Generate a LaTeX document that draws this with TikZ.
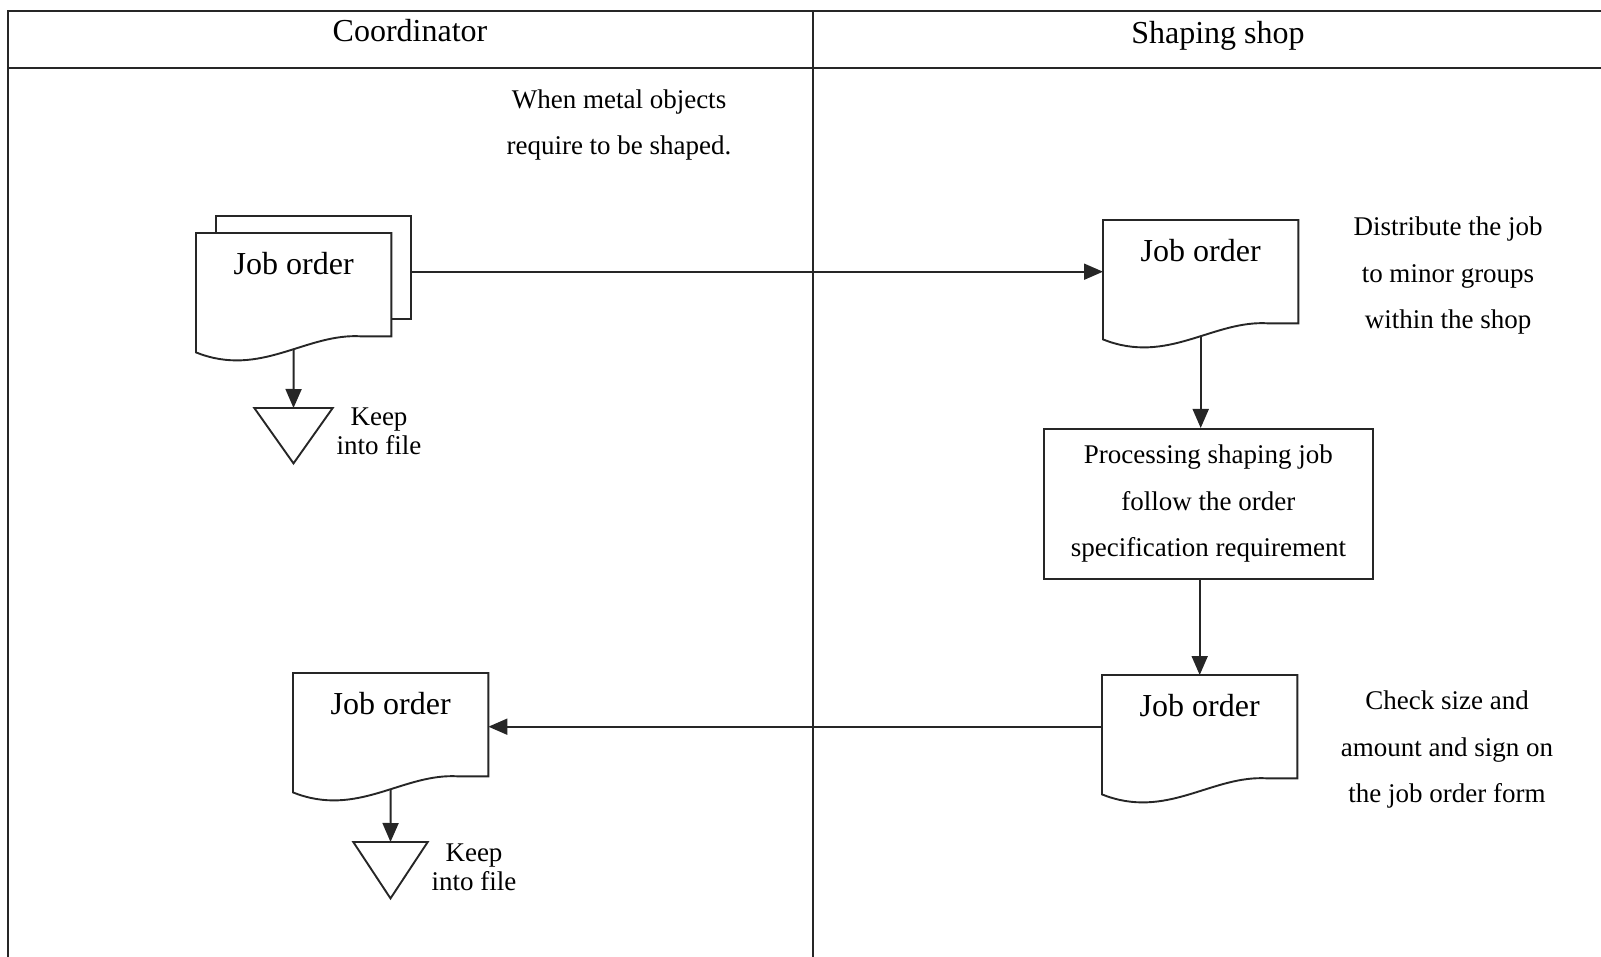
\documentclass[tikz,border=0pt]{standalone}
\usepackage{fontspec}
\setmainfont{Liberation Serif}
\usetikzlibrary{arrows.meta}

% Outline of a document symbol: straight top and sides, wavy bottom edge
\newcommand\docoutline[1]{%
  \draw[docline] (#1.south east) -- (#1.north east) -- (#1.north west)
    -- ([yshift=-16pt]#1.south west)
    .. controls ([shift={(65pt,-42pt)}]#1.south west) and ([shift={(110pt,4pt)}]#1.south west)
    .. ([xshift=166pt]#1.south west) -- cycle;}

\begin{document}
\begin{tikzpicture}[x=1pt,y=-1pt,
  frame/.style={line width=1.6pt, draw=black!85},
  docline/.style={line width=1.9pt, draw=black!85},
  doc/.style={minimum width=195pt, inner sep=0pt, text height=41pt, text depth=62pt,
    fill=white, font=\fontsize{32}{36}\selectfont, anchor=north west},
  backsheet/.style={draw=black!85, line width=1.9pt, fill=white, minimum width=195pt,
    minimum height=103pt, inner sep=0pt, anchor=north west},
  flow/.style={line width=1.9pt, draw=black!85, -{Triangle[length=19pt,width=16pt]}},
  note/.style={align=center, font=\fontsize{27}{46.5}\selectfont},
  keepnote/.style={align=center, font=\fontsize{27}{29}\selectfont},
  lane/.style={font=\fontsize{32}{36}\selectfont},
  filebox/.style={minimum width=78pt, minimum height=55pt, inner sep=0pt, anchor=north},
  procbox/.style={draw=black!85, line width=1.9pt, minimum width=329pt, minimum height=150pt,
    inner sep=0pt, align=center, font=\fontsize{27}{46.5}\selectfont, anchor=north west}
]
\useasboundingbox (0,0) rectangle (1601,957);

% swimlane frame
\draw[frame] (8,957) -- (8,11) -- (1601,11);
\draw[frame] (8,68) -- (1601,68);
\draw[frame] (813,11) -- (813,957);
\node[lane] (h1) at (410,31) {Coordinator};
\node[lane] (h2) at (1218,36) {Shaping shop};

% coordinator: multiple job order copies
\node[backsheet] (jo0b) at (215,215) {};
\node[doc] (jo0) at (196,233) {Job order};
\docoutline{jo0}
\node[note] (n0) at (619,125) {When metal objects\\require to be shaped.};

% shaping shop
\node[doc] (jo1) at (1103,220) {Job order};
\docoutline{jo1}
\node[note] (n1) at (1448,276) {Distribute the job\\to minor groups\\within the shop};

\node[procbox] (proc) at (1043,428) {Processing shaping job\\follow the order\\specification requirement};

\node[doc] (jo3) at (1102,675) {Job order};
\docoutline{jo3}
\node[note] (n3) at (1447,750) {Check size and\\amount and sign on\\the job order form};

% returned job order
\node[doc] (jo2) at (293,673) {Job order};
\docoutline{jo2}

% file symbols
\node[filebox] (f0) at (293.5,408) {};
\draw[docline] (f0.north west) -- (f0.north east) -- (f0.south) -- cycle;
\node[keepnote] (k0) at (379,431) {Keep\\into file};

\node[filebox, minimum width=74pt, minimum height=56pt] (f2) at (390.5,842) {};
\draw[docline] (f2.north west) -- (f2.north east) -- (f2.south) -- cycle;
\node[keepnote] (k2) at (474,867) {Keep\\into file};

% flows
\draw[flow] (jo0b.east |- jo1.west) -- (jo1.west);
\draw[flow] ([yshift=-13pt]jo0.south) -- (f0.north);
\draw[flow] ([yshift=-13pt]jo1.south) -- (jo1.south |- proc.north);
\draw[flow] (jo3.north |- proc.south) -- (jo3.north);
\draw[flow] (jo3.west) -- (jo3.west -| jo2.east);
\draw[flow] ([yshift=-13pt]jo2.south) -- (f2.north);
\end{tikzpicture}
\end{document}
